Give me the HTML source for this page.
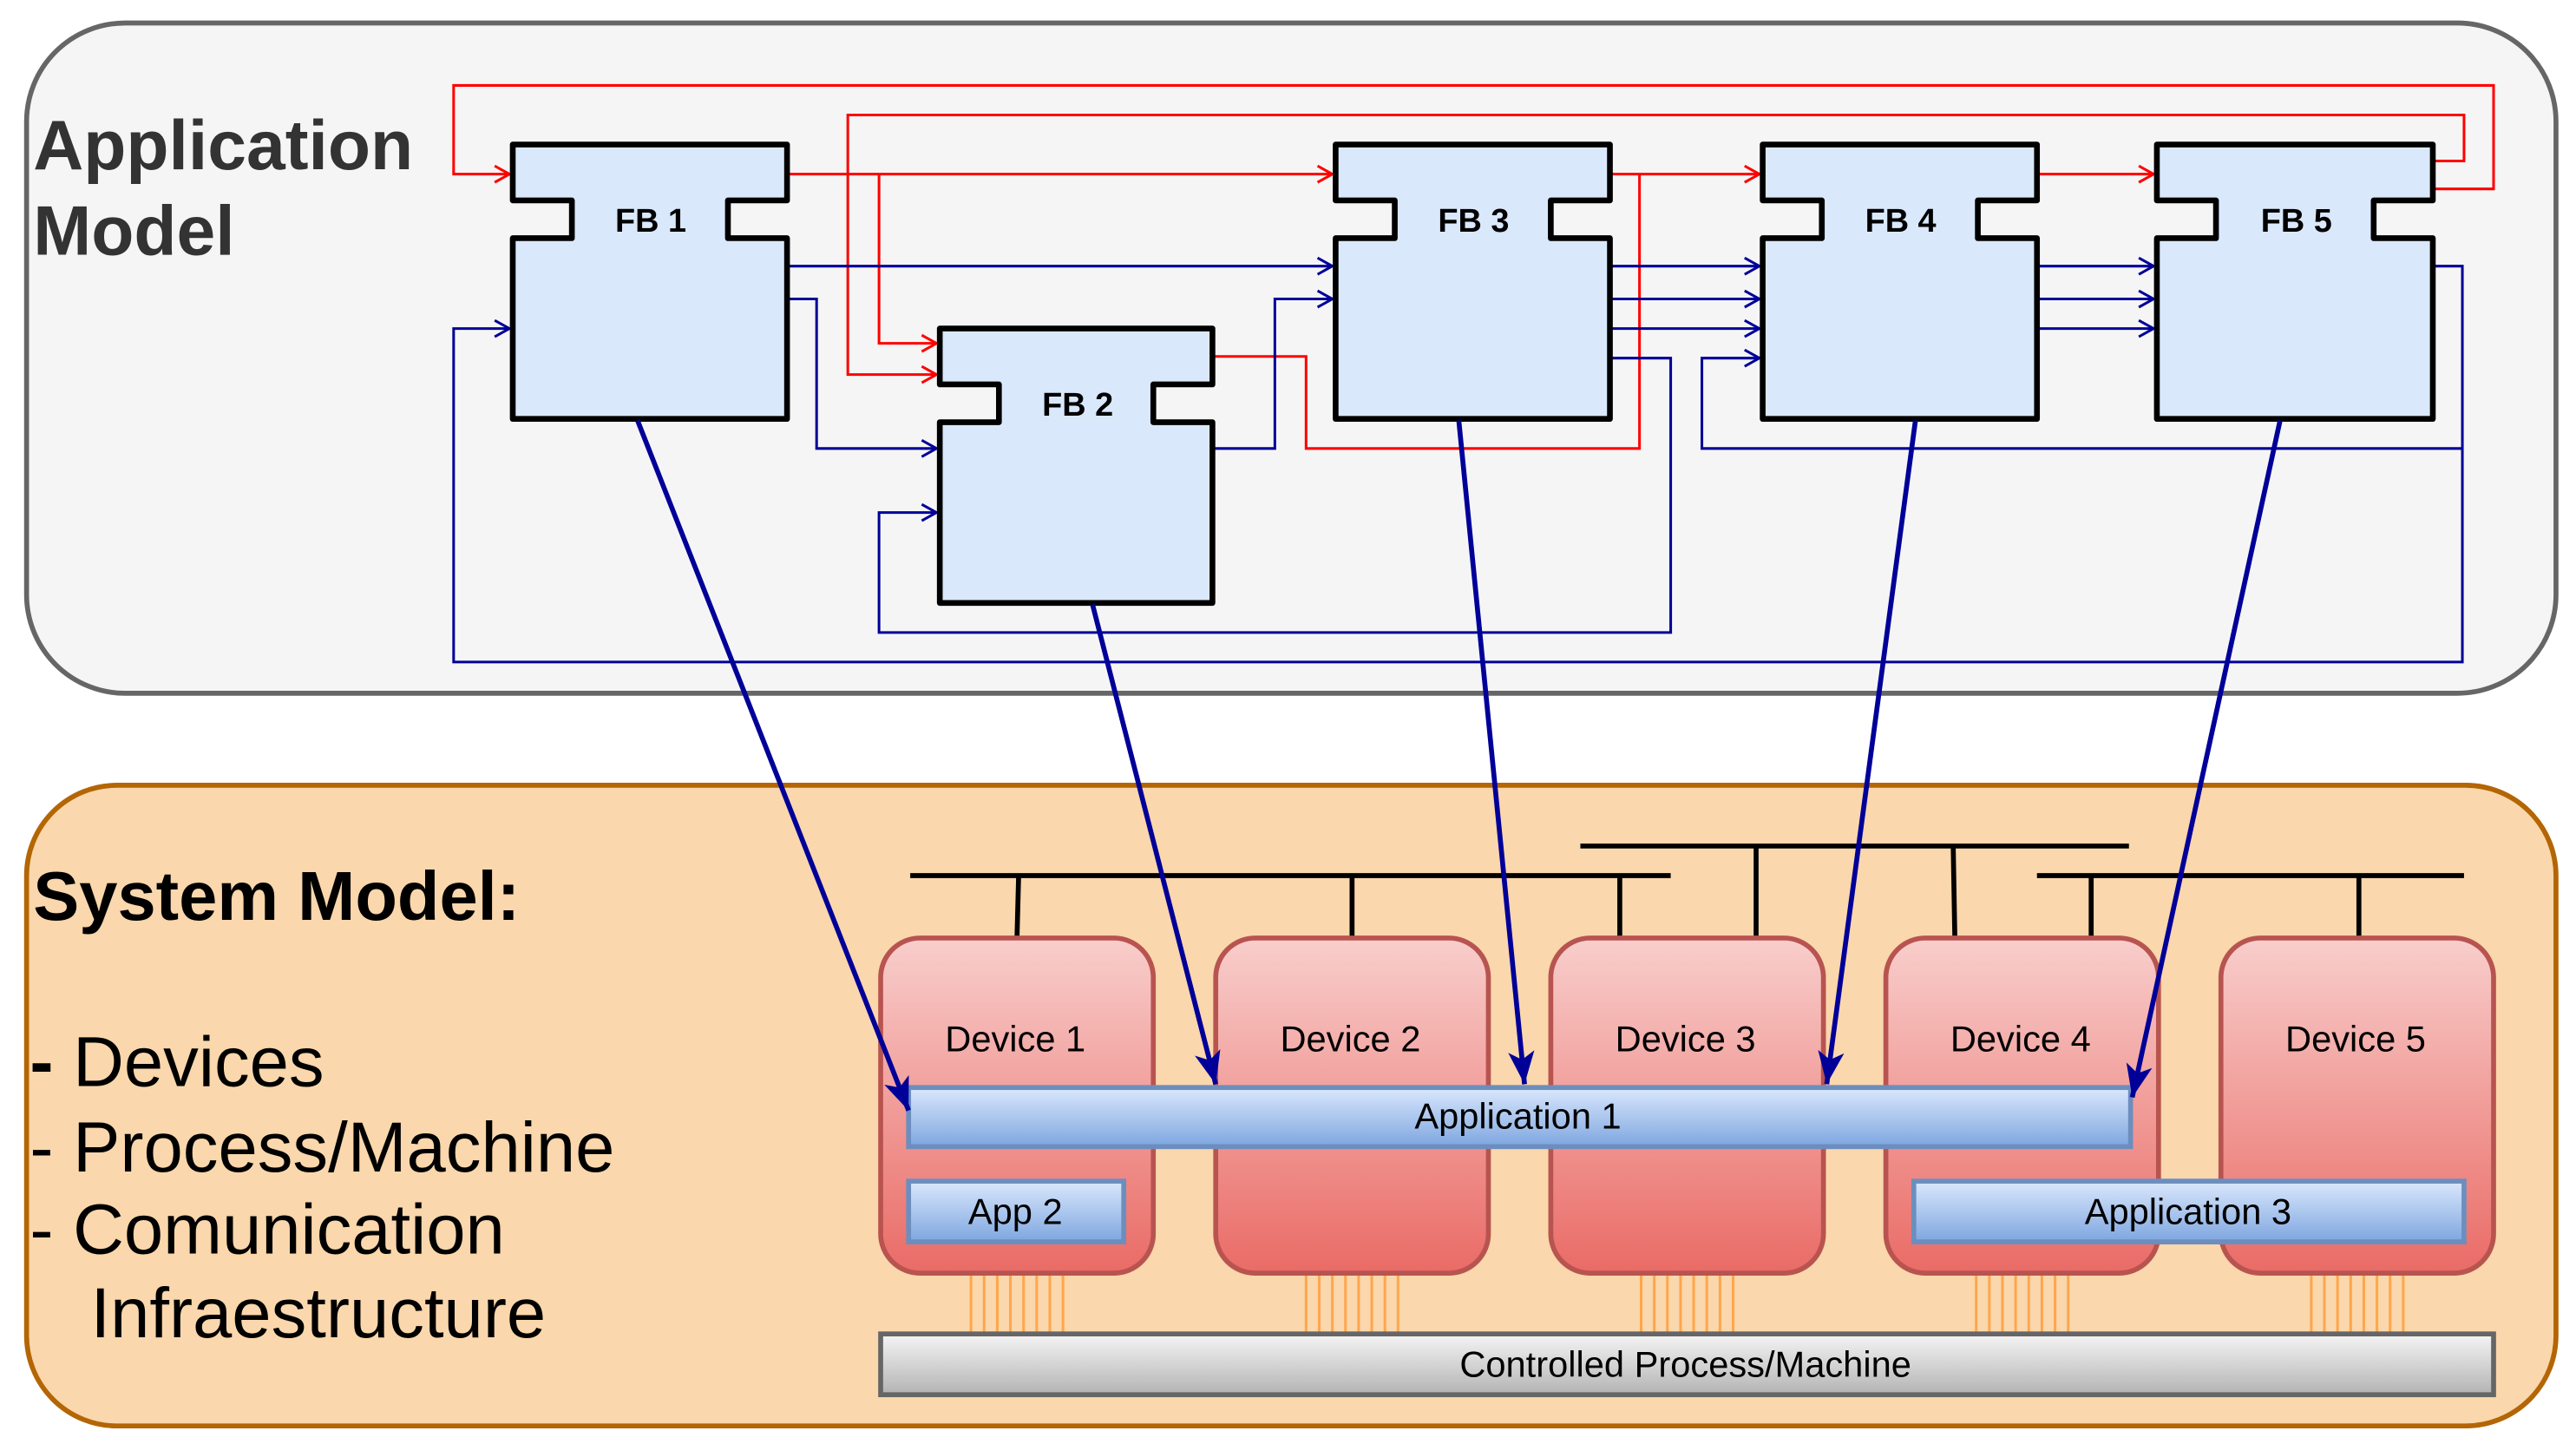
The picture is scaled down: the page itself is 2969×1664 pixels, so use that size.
<!DOCTYPE html>
<html><head><meta charset="utf-8"><style>html,body{margin:0;padding:0;background:#fff}svg{display:block}</style></head>
<body>
<svg width="2969" height="1664" viewBox="0 0 1568 879" xmlns="http://www.w3.org/2000/svg" font-family="Liberation Sans, sans-serif">
<defs>
<linearGradient id="dev" x1="0" y1="0" x2="0" y2="1"><stop offset="0" stop-color="#f8cecc"/><stop offset="1" stop-color="#ea6b66"/></linearGradient>
<linearGradient id="app" x1="0" y1="0" x2="0" y2="1"><stop offset="0" stop-color="#dae8fc"/><stop offset="1" stop-color="#7ea6e0"/></linearGradient>
<linearGradient id="proc" x1="0" y1="0" x2="0" y2="1"><stop offset="0" stop-color="#f5f5f5"/><stop offset="1" stop-color="#b3b3b3"/></linearGradient>
<marker id="ar" markerUnits="userSpaceOnUse" markerWidth="14" markerHeight="14" refX="10" refY="6" orient="auto"><path d="M1,1 L10,6 L1,11" fill="none" stroke="#f00" stroke-width="1.6"/></marker>
<marker id="ab" markerUnits="userSpaceOnUse" markerWidth="14" markerHeight="14" refX="10" refY="6" orient="auto"><path d="M1,1 L10,6 L1,11" fill="none" stroke="#000099" stroke-width="1.6"/></marker>
<marker id="big" markerUnits="userSpaceOnUse" markerWidth="24" markerHeight="24" refX="20" refY="10" orient="auto"><path d="M0,2 L20,10 L0,18 L5,10 Z" fill="#000099"/></marker>
</defs>
<rect width="1568" height="879" fill="#fff"/>
<rect x="16" y="14" width="1540" height="408" rx="60" fill="#f5f5f5" stroke="#666" stroke-width="3"/>
<rect x="16" y="478" width="1540" height="390" rx="55" fill="#fad7ac" stroke="#b46504" stroke-width="3"/>
<text x="20" y="103" font-size="42.5" font-weight="bold" fill="#333">Application</text>
<text x="20" y="155" font-size="42.5" font-weight="bold" fill="#333">Model</text>
<text x="20" y="560" font-size="42" font-weight="bold" fill="#000">System Model:</text>
<g font-size="43" fill="#000">
<text x="18" y="661"><tspan font-weight="bold">-</tspan> Devices</text>
<text x="18" y="713">- Process/Machine</text>
<text x="18" y="763">- Comunication</text>
<text x="55" y="814">Infraestructure</text>
</g>
<g fill="none" stroke="#f00" stroke-width="1.6">
<path d="M1481,115 H1518 V52 H276 V106 H310" marker-end="url(#ar)"/>
<path d="M1481,98 H1500 V70 H516 V228 H570" marker-end="url(#ar)"/>
<path d="M479,106 H811" marker-end="url(#ar)"/>
<path d="M535,106 V209 H570" marker-end="url(#ar)"/>
<path d="M980,106 H1071" marker-end="url(#ar)"/>
<path d="M738,217 H795 V273 H998 V106"/>
<path d="M1240,106 H1311" marker-end="url(#ar)"/>
</g>
<g fill="none" stroke="#000099" stroke-width="1.6">
<path d="M479,162 H811" marker-end="url(#ab)"/>
<path d="M479,182 H497 V273 H570" marker-end="url(#ab)"/>
<path d="M738,273 H776 V182 H811" marker-end="url(#ab)"/>
<path d="M980,162 H1071" marker-end="url(#ab)"/>
<path d="M980,182 H1071" marker-end="url(#ab)"/>
<path d="M980,200 H1071" marker-end="url(#ab)"/>
<path d="M980,218 H1017 V385 H535 V312 H570" marker-end="url(#ab)"/>
<path d="M1240,162 H1311" marker-end="url(#ab)"/>
<path d="M1240,182 H1311" marker-end="url(#ab)"/>
<path d="M1240,200 H1311" marker-end="url(#ab)"/>
<path d="M1481,162 H1499 V403 H276 V200 H310" marker-end="url(#ab)"/>
<path d="M1499,273 H1036 V218 H1071" marker-end="url(#ab)"/>
</g>
<g fill="#dae8fc" stroke="#000" stroke-width="3.5" stroke-linejoin="round">
<path d="M312,88 h167 v34 h-36 v23 h36 v110 h-167 v-110 h36 v-23 h-36 z"/>
<path d="M572,200 h166 v34 h-36 v23 h36 v110 h-166 v-110 h36 v-23 h-36 z"/>
<path d="M813,88 h167 v34 h-36 v23 h36 v110 h-167 v-110 h36 v-23 h-36 z"/>
<path d="M1073,88 h167 v34 h-36 v23 h36 v110 h-167 v-110 h36 v-23 h-36 z"/>
<path d="M1313,88 h168 v34 h-36 v23 h36 v110 h-168 v-110 h36 v-23 h-36 z"/>
</g>
<g font-size="20" font-weight="bold" text-anchor="middle" fill="#000">
<text x="396" y="141">FB 1</text>
<text x="656" y="253">FB 2</text>
<text x="897" y="141">FB 3</text>
<text x="1157" y="141">FB 4</text>
<text x="1398" y="141">FB 5</text>
</g>
<g stroke="#000" stroke-width="3">
<line x1="554" y1="533" x2="1017" y2="533"/>
<line x1="962" y1="515" x2="1296" y2="515"/>
<line x1="1240" y1="533" x2="1500" y2="533"/>
<line x1="620" y1="533" x2="619" y2="571"/>
<line x1="823" y1="533" x2="823" y2="571"/>
<line x1="986" y1="533" x2="986" y2="571"/>
<line x1="1069" y1="515" x2="1069" y2="571"/>
<line x1="1189" y1="515" x2="1190" y2="571"/>
<line x1="1273" y1="533" x2="1273" y2="571"/>
<line x1="1436" y1="533" x2="1436" y2="571"/>
</g>
<g stroke="#ffa64d" stroke-width="1.6">
<path d="M591,776v36M599,776v36M607,776v36M615,776v36M623,776v36M631,776v36M639,776v36M647,776v36"/>
<path d="M795,776v36M803,776v36M811,776v36M819,776v36M827,776v36M835,776v36M843,776v36M851,776v36"/>
<path d="M999,776v36M1007,776v36M1015,776v36M1023,776v36M1031,776v36M1039,776v36M1047,776v36M1055,776v36"/>
<path d="M1203,776v36M1211,776v36M1219,776v36M1227,776v36M1235,776v36M1243,776v36M1251,776v36M1259,776v36"/>
<path d="M1407,776v36M1415,776v36M1423,776v36M1431,776v36M1439,776v36M1447,776v36M1455,776v36M1463,776v36"/>
</g>
<g fill="url(#dev)" stroke="#b85450" stroke-width="3">
<rect x="536" y="571" width="166" height="204" rx="24"/>
<rect x="740" y="571" width="166" height="204" rx="24"/>
<rect x="944" y="571" width="166" height="204" rx="24"/>
<rect x="1148" y="571" width="166" height="204" rx="24"/>
<rect x="1352" y="571" width="166" height="204" rx="24"/>
</g>
<g font-size="22" text-anchor="middle" fill="#000">
<text x="618" y="640">Device 1</text>
<text x="822" y="640">Device 2</text>
<text x="1026" y="640">Device 3</text>
<text x="1230" y="640">Device 4</text>
<text x="1434" y="640">Device 5</text>
</g>
<g fill="url(#app)" stroke="#6c8ebf" stroke-width="3">
<rect x="553" y="662" width="744" height="36"/>
<rect x="553" y="719" width="131" height="37"/>
<rect x="1165" y="719" width="335" height="37"/>
</g>
<rect x="536" y="812" width="982" height="37" fill="url(#proc)" stroke="#666" stroke-width="3"/>
<g font-size="22" text-anchor="middle" fill="#000">
<text x="924" y="687">Application 1</text>
<text x="618" y="745">App 2</text>
<text x="1332" y="745">Application 3</text>
<text x="1026" y="838">Controlled Process/Machine</text>
</g>
<g stroke="#000099" stroke-width="3" fill="none">
<line x1="388" y1="256" x2="553" y2="676" marker-end="url(#big)"/>
<line x1="665" y1="368" x2="740" y2="660" marker-end="url(#big)"/>
<line x1="888" y1="256" x2="928" y2="660" marker-end="url(#big)"/>
<line x1="1166" y1="256" x2="1112" y2="660" marker-end="url(#big)"/>
<line x1="1388" y1="256" x2="1298" y2="668" marker-end="url(#big)"/>
</g>
</svg>
</body></html>
